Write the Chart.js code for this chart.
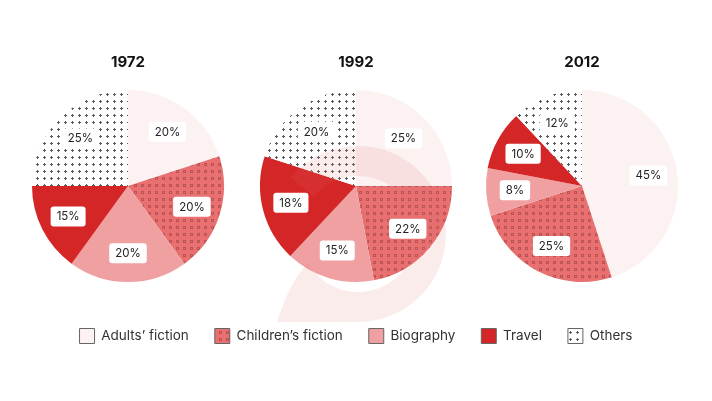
<!DOCTYPE html>
<html>
<head>
<meta charset="utf-8">
<script src="https://cdn.jsdelivr.net/npm/chart.js@4.4.0/dist/chart.umd.min.js"></script>
<style>
html,body{margin:0;padding:0;background:#fff;}
#wrap{position:relative;width:712px;height:401px;overflow:hidden;}
canvas{position:absolute;top:0;}
#c2{left:0;}
#c1{left:13px;}
#c3{left:467px;}
</style>
</head>
<body>
<div id="wrap">
<canvas id="c2" width="712" height="401"></canvas>
<canvas id="c1" width="230" height="401"></canvas>
<canvas id="c3" width="230" height="401"></canvas>
</div>
<script>
// data
var categories = ['Adults\u2019 fiction', 'Children\u2019s fiction', 'Biography', 'Travel', 'Others'];
var years = ['1972', '1992', '2012'];
var share1972 = [20, 20, 20, 15, 25];
var share1992 = [25, 22, 15, 18, 20];
var share2012 = [45, 25, 8, 10, 12];

var FONT = 'Inter, "Noto Sans", sans-serif';

function makePattern(kind){
    var c = document.createElement('canvas');
    c.width = 7; c.height = 7;
    var x = c.getContext('2d');
    if(kind == 'dots'){
        x.fillStyle = '#e87070';
        x.fillRect(0,0,7,7);
        x.strokeStyle = 'rgba(150,60,60,0.55)';
        x.lineWidth = 1;
        x.strokeRect(2.5,2.5,2,2);
    } else {
        x.fillStyle = '#ffffff';
        x.fillRect(0,0,7,7);
        x.fillStyle = '#5a5a5a';
        x.fillRect(3,2,1,3);
        x.fillRect(2,3,3,1);
    }
    return x.createPattern(c,'repeat');
}

var colors = ['#fdf2f2', makePattern('dots'), '#f0a0a0', '#d42626', makePattern('plus')];

// faint logo behind the middle pie
var watermark = {
    id:'watermark',
    afterDatasetsDraw:function(chart, args, opts){
        if(!opts.show) return;
        var ctx = chart.ctx;
        var arc = chart.getDatasetMeta(0).data[0];
        var cx = arc.x + 2, cy = arc.y + 48;
        var R = 88, r = 58;
        var d = Math.PI/180;
        ctx.save();
        ctx.beginPath();
        ctx.rect(0,0,chart.width,arc.y+136);
        ctx.clip();
        ctx.beginPath();
        ctx.arc(cx, cy, R, -140*d, 95*d);
        ctx.quadraticCurveTo(cx-30, cy+96, cx-82, cy+92);
        ctx.quadraticCurveTo(cx-70, cy+50, cx+r*Math.cos(150*d), cy+r*Math.sin(150*d));
        ctx.arc(cx, cy, r, 150*d, -140*d, true);
        ctx.closePath();
        ctx.fillStyle = 'rgba(225,110,110,0.13)';
        ctx.fill();
        ctx.restore();
    }
};

var sliceLabels = {
    id:'sliceLabels',
    afterDatasetsDraw:function(chart){
        var ctx = chart.ctx;
        var meta = chart.getDatasetMeta(0);
        var vals = chart.data.datasets[0].data;
        ctx.save();
        ctx.font = '11.5px ' + FONT;
        ctx.textAlign = 'center';
        ctx.textBaseline = 'middle';
        meta.data.forEach(function(a, i){
            var p = a.getProps(['x','y','startAngle','endAngle','outerRadius'], true);
            var ang = (p.startAngle + p.endAngle)/2;
            var rr = p.outerRadius*0.7;
            var x = p.x + Math.cos(ang)*rr, y = p.y + Math.sin(ang)*rr;
            var t = vals[i] + '%';
            var w = ctx.measureText(t).width + 12, h = 20;
            ctx.fillStyle = '#ffffff';
            ctx.beginPath();
            ctx.roundRect(x-w/2, y-h/2, w, h, 3);
            ctx.fill();
            ctx.fillStyle = '#222222';
            ctx.fillText(t, x, y+0.5);
        });
        ctx.restore();
    }
};

function makeChart(id, year, values, withLegend){
    return new Chart(document.getElementById(id), {
        type:'pie',
        data:{
            labels:categories,
            datasets:[{data:values, backgroundColor:colors, borderWidth:0, radius:96}]
        },
        options:{
            responsive:false,
            animation:false,
            events:[],
            layout:{padding:{top:0, bottom: withLegend ? 47.5 : 98.5}},
            plugins:{
                tooltip:{enabled:false},
                title:{
                    display:true, text:year, color:'#111111',
                    font:{family:FONT, size:15, weight:'bold', lineHeight:1},
                    padding:{top:54.5, bottom:0}
                },
                watermark:{show: withLegend},
                legend:{
                    display:withLegend,
                    position:'bottom',
                    labels:{
                        boxWidth:15, boxHeight:15, padding:26,
                        color:'#333333',
                        font:{family:FONT, size:13.5},
                        generateLabels:function(chart){
                            var items = Chart.overrides.pie.plugins.legend.labels.generateLabels(chart);
                            items.forEach(function(it){ it.strokeStyle = '#666666'; it.lineWidth = 1; });
                            return items;
                        }
                    }
                }
            }
        },
        plugins:[watermark, sliceLabels]
    });
}

makeChart('c2', years[1], share1992, true);
makeChart('c1', years[0], share1972, false);
makeChart('c3', years[2], share2012, false);
</script>
</body>
</html>
